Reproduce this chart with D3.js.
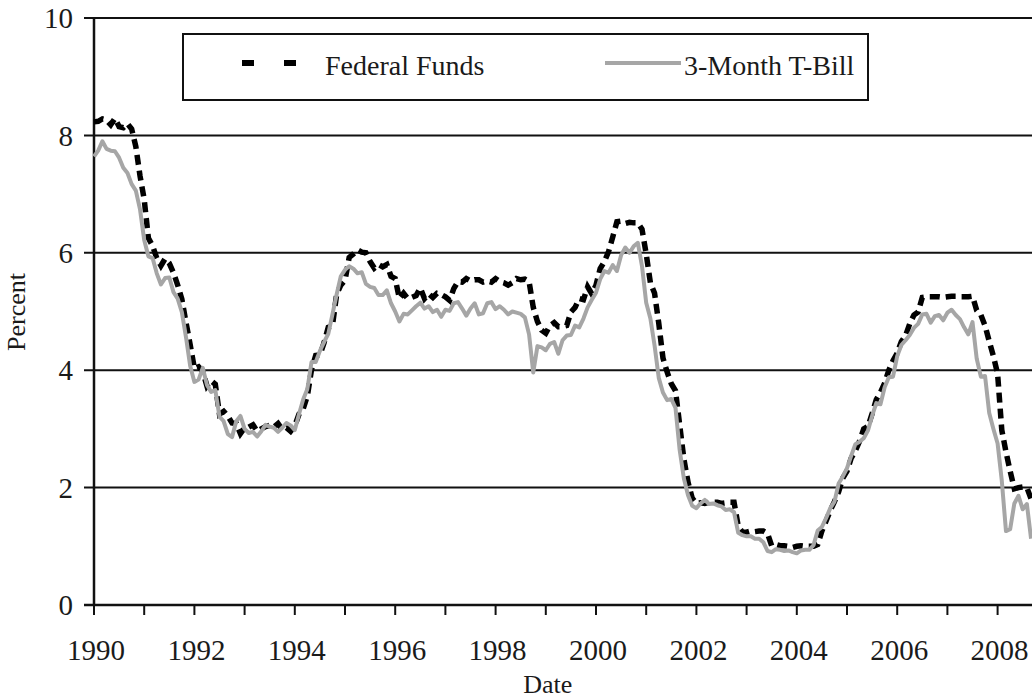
<!DOCTYPE html>
<html>
<head>
<meta charset="utf-8">
<script src="https://cdn.jsdelivr.net/npm/d3@7/dist/d3.min.js"></script>
<style>
  html, body { margin: 0; padding: 0; background: #fff; }
  svg { display: block; }
</style>
</head>
<body>
<svg id="chart" width="1032" height="700" font-family="'Liberation Serif', 'Times New Roman', Times, serif"></svg>
<script>
// ---- Data (monthly, Jan 1990 – Sep 2008) ----
const startYear = 1990;
const fedFunds = [
  8.23, 8.24, 8.28, 8.26, 8.18, 8.29, 8.15, 8.13, 8.20, 8.11, 7.81, 7.31,
  6.91, 6.25, 6.12, 5.91, 5.78, 5.90, 5.82, 5.66, 5.45, 5.21, 4.81, 4.43,
  4.03, 4.06, 3.98, 3.73, 3.82, 3.76, 3.25, 3.30, 3.22, 3.10, 3.09, 2.92,
  3.02, 3.03, 3.07, 2.96, 3.00, 3.04, 3.06, 3.03, 3.09, 2.99, 3.02, 2.96,
  3.05, 3.25, 3.34, 3.56, 4.01, 4.25, 4.26, 4.47, 4.73, 4.76, 5.29, 5.45,
  5.53, 5.92, 5.98, 6.05, 6.01, 6.00, 5.85, 5.74, 5.80, 5.76, 5.80, 5.60,
  5.56, 5.22, 5.31, 5.22, 5.24, 5.27, 5.40, 5.22, 5.30, 5.24, 5.31, 5.29,
  5.25, 5.19, 5.39, 5.51, 5.50, 5.56, 5.52, 5.54, 5.54, 5.50, 5.52, 5.50,
  5.56, 5.51, 5.49, 5.45, 5.49, 5.56, 5.54, 5.55, 5.51, 5.07, 4.83, 4.68,
  4.63, 4.76, 4.81, 4.74, 4.74, 4.76, 4.99, 5.07, 5.22, 5.20, 5.42, 5.30,
  5.45, 5.73, 5.85, 6.02, 6.27, 6.53, 6.54, 6.50, 6.52, 6.51, 6.51, 6.40,
  5.98, 5.49, 5.31, 4.80, 4.21, 3.97, 3.77, 3.65, 3.07, 2.49, 2.09, 1.82,
  1.73, 1.74, 1.73, 1.75, 1.75, 1.75, 1.73, 1.74, 1.75, 1.75, 1.34, 1.24,
  1.24, 1.26, 1.25, 1.26, 1.26, 1.22, 1.01, 1.03, 1.01, 1.01, 1.00, 0.98,
  1.00, 1.01, 1.00, 1.00, 1.00, 1.03, 1.26, 1.43, 1.61, 1.76, 1.93, 2.16,
  2.28, 2.50, 2.63, 2.79, 3.00, 3.04, 3.26, 3.50, 3.62, 3.78, 4.00, 4.16,
  4.29, 4.49, 4.59, 4.79, 4.94, 4.99, 5.24, 5.25, 5.25, 5.25, 5.25, 5.24,
  5.25, 5.26, 5.26, 5.25, 5.25, 5.25, 5.26, 5.02, 4.94, 4.76, 4.49, 4.24,
  3.94, 2.98, 2.61, 2.28, 1.98, 2.00, 2.01, 2.00, 1.81
];
const tBill = [
  7.64, 7.74, 7.90, 7.77, 7.74, 7.73, 7.62, 7.45, 7.36, 7.17, 7.06, 6.74,
  6.22, 5.94, 5.91, 5.65, 5.46, 5.57, 5.58, 5.33, 5.22, 4.99, 4.56, 4.07,
  3.80, 3.84, 4.04, 3.75, 3.63, 3.66, 3.21, 3.13, 2.91, 2.86, 3.13, 3.22,
  3.00, 2.93, 2.95, 2.87, 2.96, 3.07, 3.04, 3.02, 2.95, 3.02, 3.10, 3.06,
  2.98, 3.25, 3.50, 3.68, 4.14, 4.14, 4.33, 4.48, 4.62, 4.95, 5.29, 5.60,
  5.71, 5.77, 5.73, 5.65, 5.67, 5.47, 5.42, 5.40, 5.28, 5.28, 5.36, 5.14,
  5.00, 4.83, 4.96, 4.95, 5.02, 5.09, 5.15, 5.05, 5.09, 4.99, 5.03, 4.91,
  5.03, 5.01, 5.14, 5.16, 5.05, 4.93, 5.05, 5.14, 4.95, 4.97, 5.14, 5.16,
  5.04, 5.09, 5.03, 4.95, 5.00, 4.98, 4.96, 4.90, 4.61, 3.96, 4.41, 4.39,
  4.34, 4.45, 4.48, 4.28, 4.51, 4.59, 4.60, 4.76, 4.73, 4.88, 5.07, 5.20,
  5.32, 5.55, 5.69, 5.66, 5.79, 5.69, 5.96, 6.09, 6.00, 6.11, 6.17, 5.77,
  5.15, 4.88, 4.42, 3.87, 3.62, 3.49, 3.51, 3.36, 2.64, 2.16, 1.87, 1.69,
  1.65, 1.73, 1.79, 1.72, 1.73, 1.70, 1.68, 1.62, 1.63, 1.58, 1.23, 1.19,
  1.17, 1.17, 1.13, 1.13, 1.07, 0.92, 0.90, 0.95, 0.94, 0.92, 0.93, 0.90,
  0.88, 0.93, 0.94, 0.94, 1.02, 1.27, 1.33, 1.48, 1.65, 1.76, 2.07, 2.19,
  2.33, 2.54, 2.74, 2.78, 2.84, 2.97, 3.22, 3.44, 3.42, 3.71, 3.88, 3.89,
  4.24, 4.43, 4.51, 4.60, 4.72, 4.79, 4.95, 4.96, 4.81, 4.92, 4.94, 4.85,
  4.98, 5.03, 4.94, 4.87, 4.73, 4.61, 4.82, 4.20, 3.89, 3.90, 3.27, 3.00,
  2.75, 2.12, 1.26, 1.29, 1.73, 1.86, 1.63, 1.72, 1.13
];
const yTicks = [0, 2, 4, 6, 8, 10];
const xTickYears = d3.range(1990, 2010);
const xLabelYears = [1990, 1992, 1994, 1996, 1998, 2000, 2002, 2004, 2006, 2008];
const seriesNames = ["Federal Funds", "3-Month T-Bill"];
const xTitle = "Date";
const yTitle = "Percent";

// ---- Layout ----
const FONT = "'Liberation Serif', 'Times New Roman', Times, serif";
const INK = "#1a1a1a";
const svg = d3.select("#chart");
const x = d3.scaleLinear().domain([1990, 2009]).range([94, 94 + 19 * 50.2]);
const y = d3.scaleLinear().domain([0, 10]).range([605, 18]);
const xRight = x(2009);

const toPts = arr => arr.map((v, i) => ({ t: startYear + i / 12, v }));

// gridlines (with left tick extension)
svg.append("g").selectAll("line").data(yTicks.filter(d => d > 0)).join("line")
  .attr("x1", 84).attr("x2", xRight)
  .attr("y1", d => y(d)).attr("y2", d => y(d))
  .attr("stroke", "#111").attr("stroke-width", 2);

// x axis line + left tick at 0
svg.append("line").attr("x1", 84).attr("x2", xRight).attr("y1", y(0)).attr("y2", y(0))
  .attr("stroke", "#111").attr("stroke-width", 2.5);
// y axis line
svg.append("line").attr("x1", x(1990)).attr("x2", x(1990)).attr("y1", y(10)).attr("y2", y(0))
  .attr("stroke", "#111").attr("stroke-width", 2.5);

// x ticks
svg.append("g").selectAll("line").data(xTickYears).join("line")
  .attr("x1", d => x(d)).attr("x2", d => x(d))
  .attr("y1", y(0)).attr("y2", y(0) + 10)
  .attr("stroke", "#111").attr("stroke-width", 2);

// y tick labels
svg.append("g").selectAll("text").data(yTicks).join("text")
  .attr("x", 73).attr("y", d => y(d)).attr("dy", "0.35em")
  .attr("text-anchor", "end").attr("font-size", 29)
  .attr("font-family", FONT).attr("fill", INK)
  .text(d => d);

// x tick labels
svg.append("g").selectAll("text").data(xLabelYears).join("text")
  .attr("x", d => x(d) + 2).attr("y", 660)
  .attr("text-anchor", "middle").attr("font-size", 29)
  .attr("font-family", FONT).attr("fill", INK)
  .text(d => d);

// axis titles
svg.append("text").attr("x", x(1999) + 2).attr("y", 693)
  .attr("text-anchor", "middle").attr("font-size", 26)
  .attr("font-family", FONT).attr("fill", INK).text(xTitle);
svg.append("text").attr("transform", `translate(25,${312}) rotate(-90)`)
  .attr("text-anchor", "middle").attr("font-size", 26)
  .attr("font-family", FONT).attr("fill", INK).text(yTitle);

// lines
const line = d3.line().x(d => x(d.t)).y(d => y(d.v)).curve(d3.curveLinear);
svg.append("path").datum(toPts(fedFunds)).attr("d", line)
  .attr("fill", "none").attr("stroke", "#000").attr("stroke-width", 5.5)
  .attr("stroke-dasharray", "10,6");
svg.append("path").datum(toPts(tBill)).attr("d", line)
  .attr("fill", "none").attr("stroke", "#a6a6a6").attr("stroke-width", 4)
  .attr("stroke-linejoin", "round");

// legend
const lg = svg.append("g");
lg.append("rect").attr("x", 183).attr("y", 34).attr("width", 685).attr("height", 66)
  .attr("fill", "#fff").attr("stroke", "#111").attr("stroke-width", 2);
lg.append("line").attr("x1", 242).attr("x2", 296).attr("y1", 63).attr("y2", 63)
  .attr("stroke", "#000").attr("stroke-width", 6).attr("stroke-dasharray", "12,30");
lg.append("text").attr("x", 325).attr("y", 75).attr("font-size", 28)
  .attr("font-family", FONT).attr("fill", INK).text(seriesNames[0]);
lg.append("line").attr("x1", 605).attr("x2", 681).attr("y1", 63).attr("y2", 63)
  .attr("stroke", "#a6a6a6").attr("stroke-width", 4);
lg.append("text").attr("x", 684).attr("y", 75).attr("font-size", 28)
  .attr("font-family", FONT).attr("fill", INK).text(seriesNames[1]);
</script>
</body>
</html>
